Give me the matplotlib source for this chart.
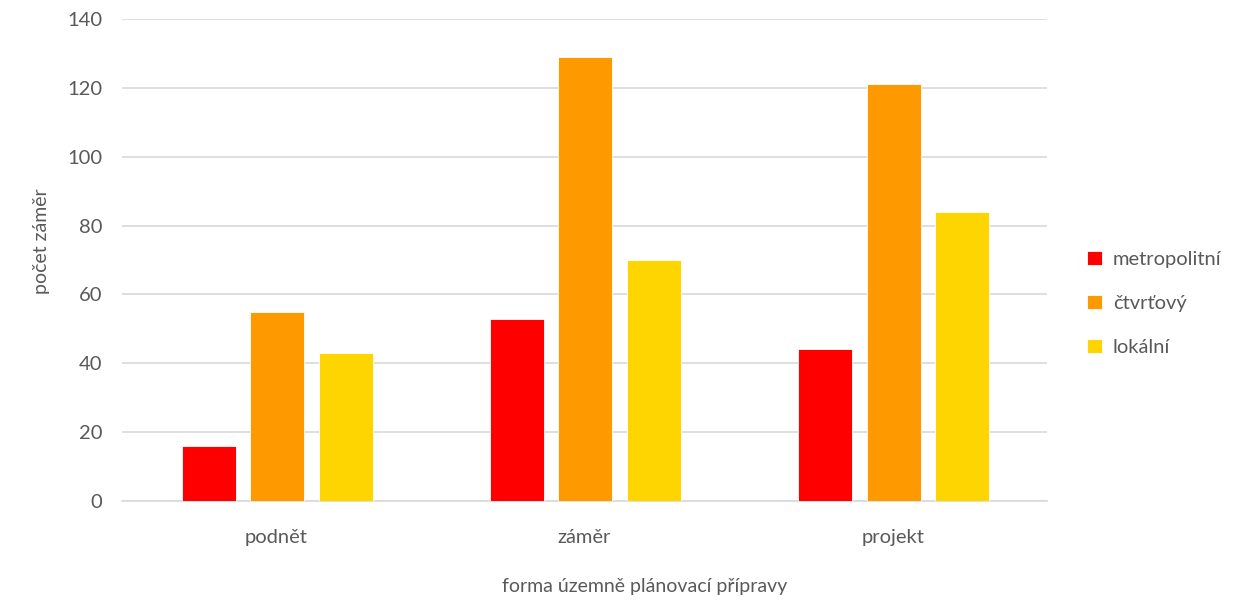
import numpy as np
import matplotlib.pyplot as plt

plt.rcParams['font.family'] = ['Lato', 'DejaVu Sans']

categories = ["podnět", "záměr", "projekt"]
series_names = ["metropolitní", "čtvrťový", "lokální"]
metropolitni = [16, 53, 44]
ctvrtovy = [55, 129, 121]
lokalni = [43, 70, 84]
colors = ["#FF0000", "#FF9900", "#FFD500"]

text_color = "#595959"
grid_color = "#D9D9D9"

fig = plt.figure(figsize=(12.55, 6.03), dpi=100)
ax = fig.add_axes([0.0972, 0.1692, 0.7371, 0.7993])

x = np.arange(len(categories))
width = 0.175
step = 0.222
for i, (vals, name) in enumerate(zip([metropolitni, ctvrtovy, lokalni], series_names)):
    ax.bar(x + (i - 1) * step + 0.003, vals, width, color=colors[i], label=name,
           edgecolor="white", linewidth=0.6, zorder=3)

ax.set_xlim(-0.5, 2.5)
ax.set_ylim(0, 140)
ax.set_yticks(range(0, 141, 20))
ax.set_xticks(x)
ax.set_xticklabels(categories)
ax.grid(axis="y", color=grid_color, linewidth=1.2, zorder=0)
for s in ["top", "right", "left"]:
    ax.spines[s].set_visible(False)
ax.spines["bottom"].set_color(grid_color)
ax.spines["bottom"].set_linewidth(1.2)
ax.tick_params(axis="both", length=0, labelsize=14.5, labelcolor=text_color)
ax.tick_params(axis="y", pad=14)
ax.tick_params(axis="x", pad=20)

ax.set_ylabel("počet záměr", fontsize=14, color=text_color)
ax.yaxis.set_label_coords(-0.078, 0.54)
fig.text(0.514, 0.028, "forma územně plánovací přípravy", fontsize=14,
         color=text_color, ha="center", va="center")

leg = ax.legend(loc="center left", bbox_to_anchor=(1.035, 0.41), frameon=False,
                fontsize=14.5, handlelength=0.7, handleheight=0.7,
                handletextpad=0.55, labelspacing=1.35, borderaxespad=0)
for t in leg.get_texts():
    t.set_color(text_color)

fig.savefig("out.png", dpi=100)
